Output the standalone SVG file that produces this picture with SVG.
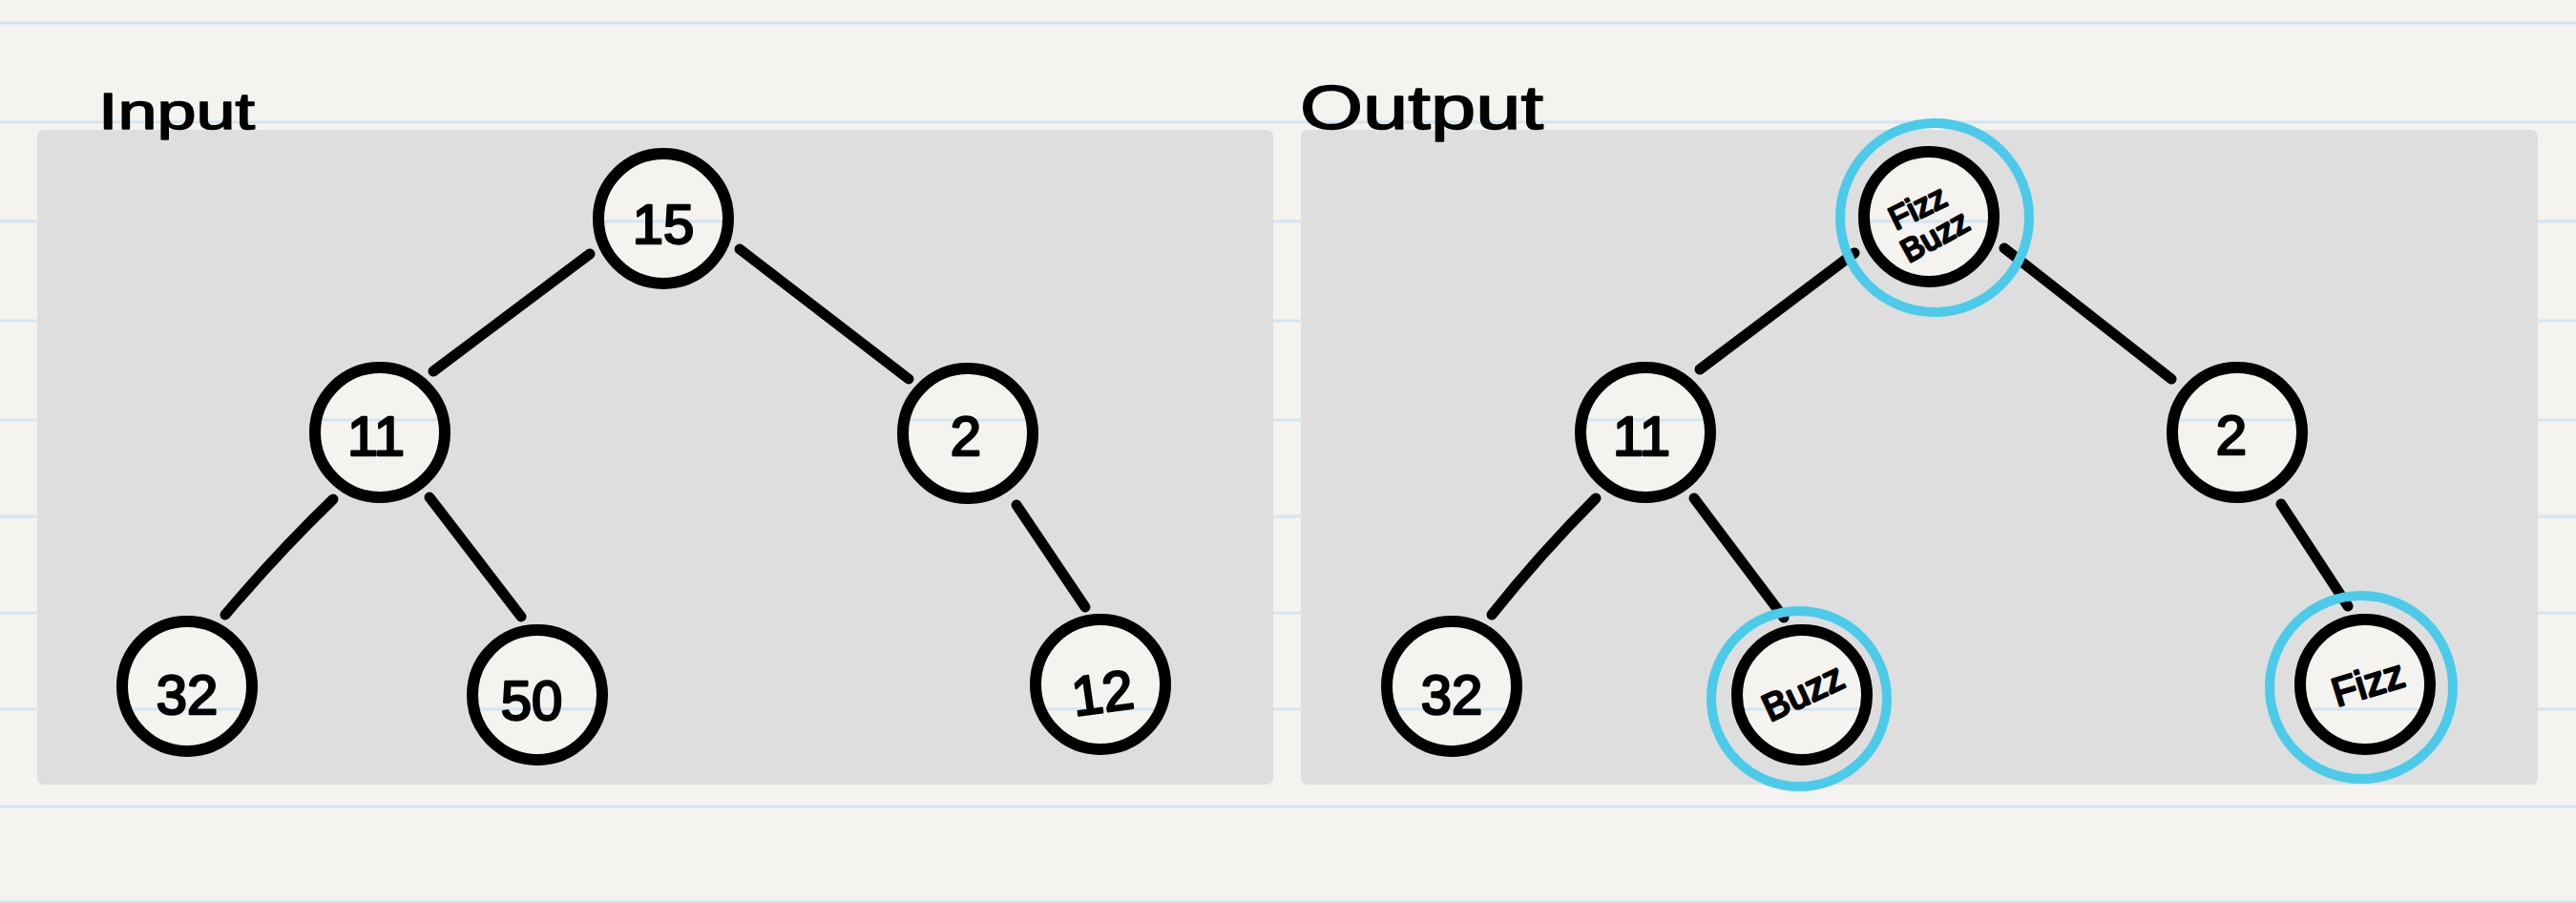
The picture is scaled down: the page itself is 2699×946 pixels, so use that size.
<svg xmlns="http://www.w3.org/2000/svg" width="2699" height="946" viewBox="0 0 2699 946">
<style>
.rule{stroke:#d2e5f4;stroke-width:3}
.panel{fill:#dedede}
.node{fill:url(#paper);stroke:#000;stroke-width:12}
.ring{fill:none;stroke:#4bcbe9;stroke-width:10}
.edge{stroke:#000;stroke-width:11;stroke-linecap:round;fill:none}
.lbl{font-family:"Liberation Sans","DejaVu Sans",sans-serif;fill:#000;stroke:#000;stroke-width:2.5;stroke-linejoin:round;text-anchor:middle}
.num{font-size:58px}
.title{font-family:"Liberation Sans","DejaVu Sans",sans-serif;fill:#000;stroke:#000;stroke-width:1.5;stroke-linejoin:round}
</style>
<defs>
<g id="rules">
<rect x="0" y="0" width="2699" height="946" fill="#f4f3ef"/>
<line class="rule" x1="0" y1="24" x2="2699" y2="24"/>
<line class="rule" x1="0" y1="128" x2="2699" y2="128"/>
<line class="rule" x1="0" y1="232" x2="2699" y2="232"/>
<line class="rule" x1="0" y1="336" x2="2699" y2="336"/>
<line class="rule" x1="0" y1="440" x2="2699" y2="440"/>
<line class="rule" x1="0" y1="541" x2="2699" y2="541"/>
<line class="rule" x1="0" y1="642" x2="2699" y2="642"/>
<line class="rule" x1="0" y1="743" x2="2699" y2="743"/>
<line class="rule" x1="0" y1="845" x2="2699" y2="845"/>
<line class="rule" x1="0" y1="945" x2="2699" y2="945"/>
</g>
<pattern id="paper" patternUnits="userSpaceOnUse" x="0" y="0" width="2699" height="946">
<use href="#rules"/>
</pattern>
</defs>
<use href="#rules"/>
<rect class="panel" x="39" y="136" width="1295" height="686" rx="7"/>
<rect class="panel" x="1363" y="136" width="1296" height="686" rx="7"/>
<text class="title" x="103" y="135" font-size="53" textLength="164" lengthAdjust="spacingAndGlyphs">Input</text>
<text class="title" x="1362" y="135" font-size="64" textLength="255" lengthAdjust="spacingAndGlyphs">Output</text>
<g id="connectors">
<line class="edge" x1="618" y1="266" x2="454" y2="389"/>
<line class="edge" x1="775" y1="261" x2="952" y2="397"/>
<path class="edge" d="M349 523 Q290 580 236 644"/>
<line class="edge" x1="450" y1="521" x2="546" y2="646"/>
<line class="edge" x1="1065" y1="529" x2="1137" y2="636"/>
<line class="edge" x1="1943" y1="265" x2="1781" y2="387"/>
<line class="edge" x1="2100" y1="260" x2="2275" y2="397"/>
<path class="edge" d="M1672 522 Q1614 580 1563 644"/>
<line class="edge" x1="1775" y1="522" x2="1869" y2="647"/>
<line class="edge" x1="2390" y1="528" x2="2460" y2="635"/>
</g>
<g id="n15"><circle class="node" cx="695" cy="229" r="68"/><text class="lbl num" x="695" y="255">15</text></g>
<g id="n11"><circle class="node" cx="398" cy="453" r="68"/><text class="lbl num" x="394" y="477">11</text></g>
<g id="n2"><circle class="node" cx="1014" cy="454" r="68"/><text class="lbl num" x="1012" y="477">2</text></g>
<g id="n32"><circle class="node" cx="196" cy="719" r="68"/><text class="lbl num" x="196" y="748">32</text></g>
<g id="n50"><circle class="node" cx="563" cy="728" r="68"/><text class="lbl num" x="557" y="754">50</text></g>
<g id="n12"><circle class="node" cx="1153" cy="717" r="68"/><text class="lbl num" x="1155" y="746" transform="rotate(-8 1155 725)">12</text></g>
<g id="out-fizzbuzz"><circle class="ring" cx="2027" cy="228" r="99"/><circle class="node" cx="2021" cy="227" r="68"/>
<text class="lbl" font-size="34" x="2009" y="229" transform="rotate(-26 2009 217)">Fizz</text>
<text class="lbl" font-size="34" x="2027" y="259" transform="rotate(-29 2027 247)">Buzz</text></g>
<g id="out-11"><circle class="node" cx="1724" cy="453" r="68"/><text class="lbl num" x="1720" y="477">11</text></g>
<g id="out-2"><circle class="node" cx="2344" cy="453" r="68"/><text class="lbl num" x="2338" y="476">2</text></g>
<g id="out-32"><circle class="node" cx="1521" cy="719" r="68"/><text class="lbl num" x="1521" y="748">32</text></g>
<g id="out-buzz"><circle class="ring" cx="1885" cy="732" r="92"/><circle class="node" cx="1888" cy="728" r="68"/>
<text class="lbl" font-size="40" x="1889" y="739" transform="rotate(-25 1889 725)">Buzz</text></g>
<g id="out-fizz"><circle class="ring" cx="2474" cy="720" r="96"/><circle class="node" cx="2478" cy="717" r="68"/>
<text class="lbl" font-size="42" x="2481" y="730" transform="rotate(-17 2481 715)">Fizz</text></g>
</svg>
